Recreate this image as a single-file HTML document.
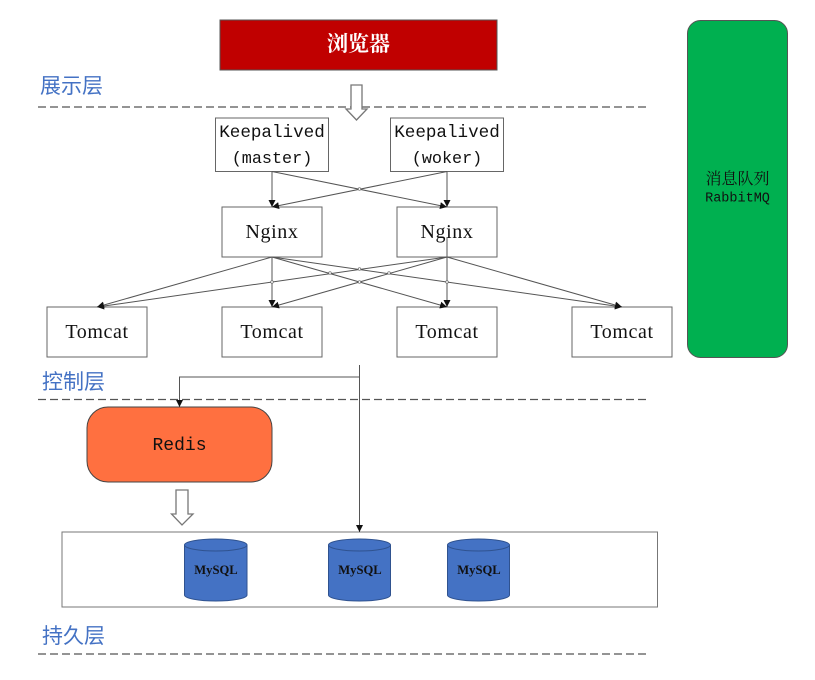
<!DOCTYPE html>
<html><head><meta charset="utf-8"><style>
html,body{margin:0;padding:0;background:#fff}
svg{display:block}
.l{stroke:#555;stroke-width:1;fill:none}
.b{stroke:#666;stroke-width:1;fill:#fff}
.d{stroke:#555;stroke-width:1.2;stroke-dasharray:8 4;fill:none}
.h{fill:#4472C4;font-family:"Liberation Sans","Noto Sans CJK SC",sans-serif;font-size:21px}
.m{font-family:"Liberation Mono","Noto Sans CJK SC",monospace;font-size:17.6px;fill:#111;text-anchor:middle}
.s{font-family:"Liberation Serif","Noto Serif CJK SC",serif;font-size:20px;letter-spacing:.6px;fill:#111;text-anchor:middle}
.q{font-family:"Liberation Serif","Noto Serif CJK SC",serif;font-size:12.6px;fill:#111;text-anchor:middle;font-weight:bold}
.j{fill:#fff;stroke:#666;stroke-width:.7}
</style></head><body>
<svg width="815" height="680" viewBox="0 0 815 680" xmlns="http://www.w3.org/2000/svg">
<defs><marker id="ar" markerWidth="8" markerHeight="8" refX="7" refY="3.5" orient="auto" markerUnits="userSpaceOnUse"><path d="M0,0 L7,3.5 L0,7 Z" fill="#111"/></marker></defs>

<rect x="220" y="20" width="277" height="50" fill="#C00000" stroke="#555"/>
<text x="358.5" y="51" text-anchor="middle" fill="#fff" font-weight="bold" font-size="21" font-family="'Liberation Serif','Noto Serif CJK SC',serif">浏览器</text>

<rect x="687.5" y="20.5" width="100" height="337" rx="13" fill="#00B050" stroke="#555"/>
<text x="737.5" y="184" text-anchor="middle" fill="#111" font-size="16" font-family="'Liberation Serif','Noto Serif CJK SC',serif">消息队列</text>
<text x="737.5" y="201.5" text-anchor="middle" fill="#111" font-size="13.5" font-family="'Liberation Mono',monospace">RabbitMQ</text>

<text x="40" y="93" class="h">展示层</text>
<text x="42" y="389" class="h">控制层</text>
<text x="42" y="643" class="h">持久层</text>
<line x1="38" y1="107" x2="650" y2="107" class="d"/>
<line x1="38" y1="399.5" x2="650" y2="399.5" class="d"/>
<line x1="38" y1="654" x2="650" y2="654" class="d"/>

<path d="M351,85 H362 V109 H367 L356.5,120 L346,109 H351 Z" fill="#fff" stroke="#777" stroke-width="1.3"/>

<rect class="b" x="215.5" y="118" width="113" height="53.5"/>
<rect class="b" x="390.5" y="118" width="113" height="53.5"/>
<text x="272" y="137" class="m">Keepalived</text>
<text x="272" y="163" class="m" style="font-size:16.8px">(master)</text>
<text x="447" y="137" class="m">Keepalived</text>
<text x="447" y="163" class="m" style="font-size:16.8px">(woker)</text>

<rect class="b" x="222" y="207" width="100" height="50"/>
<rect class="b" x="397" y="207" width="100" height="50"/>
<text x="272" y="238" class="s">Nginx</text>
<text x="447" y="238" class="s">Nginx</text>

<rect class="b" x="47" y="307" width="100" height="50"/>
<rect class="b" x="222" y="307" width="100" height="50"/>
<rect class="b" x="397" y="307" width="100" height="50"/>
<rect class="b" x="572" y="307" width="100" height="50"/>
<text x="97" y="338" class="s">Tomcat</text>
<text x="272" y="338" class="s">Tomcat</text>
<text x="447" y="338" class="s">Tomcat</text>
<text x="622" y="338" class="s">Tomcat</text>

<line class="l" x1="272" y1="171.5" x2="272" y2="207" marker-end="url(#ar)"/>
<line class="l" x1="272" y1="171.5" x2="447" y2="207" marker-end="url(#ar)"/>
<line class="l" x1="447" y1="171.5" x2="272" y2="207" marker-end="url(#ar)"/>
<line class="l" x1="447" y1="171.5" x2="447" y2="207" marker-end="url(#ar)"/>
<line class="l" x1="272" y1="257" x2="97" y2="307" marker-end="url(#ar)"/>
<line class="l" x1="272" y1="257" x2="272" y2="307" marker-end="url(#ar)"/>
<line class="l" x1="272" y1="257" x2="447" y2="307" marker-end="url(#ar)"/>
<line class="l" x1="272" y1="257" x2="622" y2="307" marker-end="url(#ar)"/>
<line class="l" x1="447" y1="257" x2="97" y2="307" marker-end="url(#ar)"/>
<line class="l" x1="447" y1="257" x2="272" y2="307" marker-end="url(#ar)"/>
<line class="l" x1="447" y1="237" x2="447" y2="307" marker-end="url(#ar)"/>
<line class="l" x1="447" y1="257" x2="622" y2="307" marker-end="url(#ar)"/>

<circle class="j" cx="359.5" cy="189" r="1.3"/>
<circle class="j" cx="272" cy="282" r="1.3"/>
<circle class="j" cx="330" cy="273" r="1.3"/>
<circle class="j" cx="359.5" cy="269" r="1.3"/>
<circle class="j" cx="389" cy="273" r="1.3"/>
<circle class="j" cx="359.5" cy="282" r="1.3"/>
<circle class="j" cx="447" cy="282" r="1.3"/>

<rect x="62" y="532" width="595.5" height="75" fill="#fff" stroke="#777" stroke-width="1"/>

<path class="l" d="M359.5,377 H179.5 V407" marker-end="url(#ar)"/>
<line class="l" x1="359.5" y1="365" x2="359.5" y2="532" marker-end="url(#ar)"/>

<rect x="87" y="407" width="185" height="75" rx="21" fill="#FF7040" stroke="#444"/>
<text x="179.5" y="450" text-anchor="middle" fill="#111" font-size="18" font-family="'Liberation Mono',monospace">Redis</text>

<path d="M176,490 H188 V514 H193 L182,525 L171.5,514 H176 Z" fill="#fff" stroke="#777" stroke-width="1.3"/>

<g fill="#4472C4" stroke="#2F528F" stroke-width="1">
<path d="M184.5,545 V595 A31.25,6 0 0 0 247,595 V545 A31.25,6 0 0 0 184.5,545 A31.25,6 0 0 0 247,545"/>
<path d="M328.5,545 V595 A31,6 0 0 0 390.5,595 V545 A31,6 0 0 0 328.5,545 A31,6 0 0 0 390.5,545"/>
<path d="M447.5,545 V595 A31,6 0 0 0 509.5,595 V545 A31,6 0 0 0 447.5,545 A31,6 0 0 0 509.5,545"/>
</g>
<text x="216" y="574" class="q">MySQL</text>
<text x="360" y="574" class="q">MySQL</text>
<text x="479" y="574" class="q">MySQL</text>
</svg>
</body></html>
